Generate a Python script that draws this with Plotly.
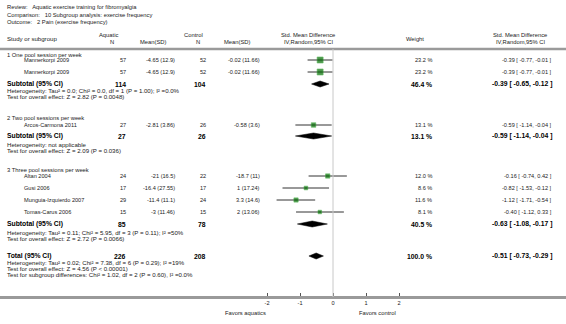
import plotly.graph_objects as go

# ---------------- data ----------------
title_lines = [
    "Review:   Aquatic exercise training for fibromyalgia",
    "Comparison:   10 Subgroup analysis: exercise frequency",
    "Outcome:   2 Pain (exercise frequency)",
]
group_titles = ["1 One pool session per week",
                "2 Two pool sessions per week",
                "3 Three pool sessions per week"]

study_names = ["Mannerkorpi 2009", "Mannerkorpi 2009", "Arcos-Carmona 2011",
               "Altan 2004", "Gusi 2006", "Munguia-Izquierdo 2007", "Tomas-Carus 2006"]
study_group = [0, 0, 1, 2, 2, 2, 2]
aq_n = [57, 57, 27, 24, 17, 29, 15]
aq_mean = [-4.65, -4.65, -2.81, -21, -16.4, -11.4, -3]
aq_sd = [12.9, 12.9, 3.86, 16.5, 27.55, 11.1, 11.46]
ct_n = [52, 52, 26, 22, 17, 24, 15]
ct_mean = [-0.02, -0.02, -0.58, -18.7, 1, 3.3, 2]
ct_sd = [11.66, 11.66, 3.6, 11, 17.24, 14.6, 13.06]
weights = [23.2, 23.2, 13.1, 12.0, 8.6, 11.6, 8.1]
smd = [-0.39, -0.39, -0.59, -0.16, -0.82, -1.12, -0.40]
smd_lo = [-0.77, -0.77, -1.14, -0.74, -1.53, -1.71, -1.12]
smd_hi = [-0.01, -0.01, -0.04, 0.42, -0.12, -0.54, 0.33]

sub_aq_n = [114, 27, 85]
sub_ct_n = [104, 26, 78]
sub_weight = [46.4, 13.1, 40.5]
sub_smd = [-0.39, -0.59, -0.63]
sub_lo = [-0.65, -1.14, -1.08]
sub_hi = [-0.12, -0.04, -0.17]
sub_het = ["Heterogeneity: Tau² = 0.0; Chi² = 0.0, df = 1 (P = 1.00); I² =0.0%",
           "Heterogeneity: not applicable",
           "Heterogeneity: Tau² = 0.11; Chi² = 5.95, df = 3 (P = 0.11); I² =50%"]
sub_test = ["Test for overall effect: Z = 2.82 (P = 0.0048)",
            "Test for overall effect: Z = 2.09 (P = 0.036)",
            "Test for overall effect: Z = 2.72 (P = 0.0066)"]

total_aq_n = 226
total_ct_n = 208
total_weight = 100.0
total_smd = -0.51
total_lo = -0.73
total_hi = -0.29
total_notes = ["Heterogeneity: Tau² = 0.02; Chi² = 7.38, df = 6 (P = 0.29); I² =19%",
               "Test for overall effect: Z = 4.56 (P < 0.00001)",
               "Test for subgroup differences: Chi² = 1.02, df = 2 (P = 0.60), I² =0.0%"]

tick_vals = [-2, -1, 0, 1, 2]
favours = ["Favors aquatics", "Favors control"]

# ---------------- layout (pixel positions) ----------------
W, H = 566, 324
FONT = "Liberation Sans"
title_y = [7, 14.5, 22]
head_y1, head_y2, head_mid = 35, 42, 38.5
head_line_y = 49
group_y = [55, 118, 170]
study_y = [60, 72, 125, 176, 188, 200, 212]
sub_y = [84, 136, 224]
sub_het_y = [90, 144, 232]
sub_test_y = [96, 150, 238]
total_y = 256
total_note_y = [262.5, 268.5, 274.5]
axis_y = 297
favours_y = 313
zero_px, unit_px = 333, 33
col = dict(left=6, study=23, aqn=127, aqm=176, ctn=207, ctm=261, wt=433, ci=553)

ROW, NOTE, HEAD, BS = 5.6, 6.1, 5.8, 6.8

fig = go.Figure()
annots = []


def txt(x, y, s, anchor="left", size=ROW, bold=False, color="#222"):
    annots.append(dict(x=x / W, y=y, xref="paper", yref="y", text=("<b>%s</b>" % s) if bold else s,
                       showarrow=False, xanchor=anchor, yanchor="middle", borderpad=0,
                       font=dict(family=FONT, size=size, color=color)))


def fmt(v):
    return "%g" % v


def ci(e, l, h):
    return "%.2f [ %.2f, %.2f ]" % (e, l, h)


for t, y in zip(title_lines, title_y):
    txt(col["left"], y, t, size=HEAD)

# headers
txt(col["left"], head_mid, "Study or subgroup", size=HEAD + 0.3)
txt(108, head_y1, "Aquatic", anchor="center", size=HEAD)
txt(112, head_y2, "N", anchor="center", size=HEAD)
txt(153, head_y2, "Mean(SD)", anchor="center", size=HEAD)
txt(193, head_y1, "Control", anchor="center", size=HEAD)
txt(198, head_y2, "N", anchor="center", size=HEAD)
txt(237, head_y2, "Mean(SD)", anchor="center", size=HEAD)
txt(308, head_y1, "Std. Mean Difference", anchor="center", size=HEAD)
txt(308, head_y2, "IV,Random,95% CI", anchor="center", size=HEAD)
txt(415, head_mid, "Weight", anchor="center", size=HEAD)
txt(520, head_y1, "Std. Mean Difference", anchor="center", size=HEAD)
txt(520, head_y2, "IV,Random,95% CI", anchor="center", size=HEAD)

for g, t in enumerate(group_titles):
    txt(col["left"], group_y[g], t, size=HEAD)

for i, name in enumerate(study_names):
    y = study_y[i]
    txt(col["study"], y, name)
    txt(col["aqn"], y, str(aq_n[i]), anchor="right")
    txt(col["aqm"], y, "%s (%s)" % (fmt(aq_mean[i]), fmt(aq_sd[i])), anchor="right")
    txt(col["ctn"], y, str(ct_n[i]), anchor="right")
    txt(col["ctm"], y, "%s (%s)" % (fmt(ct_mean[i]), fmt(ct_sd[i])), anchor="right")
    txt(col["wt"], y, "%.1f %%" % weights[i], anchor="right")
    txt(col["ci"], y, ci(smd[i], smd_lo[i], smd_hi[i]), anchor="right")

for g in range(3):
    y = sub_y[g]
    txt(col["left"], y, "Subtotal (95% CI)", size=BS, bold=True, color="#000")
    txt(col["aqn"], y, str(sub_aq_n[g]), anchor="right", size=BS, bold=True, color="#000")
    txt(col["ctn"], y, str(sub_ct_n[g]), anchor="right", size=BS, bold=True, color="#000")
    txt(col["wt"], y, "%.1f %%" % sub_weight[g], anchor="right", size=BS, bold=True, color="#000")
    txt(col["ci"], y, ci(sub_smd[g], sub_lo[g], sub_hi[g]), anchor="right", size=BS, bold=True, color="#000")
    txt(col["left"], sub_het_y[g], sub_het[g], size=NOTE)
    txt(col["left"], sub_test_y[g], sub_test[g], size=NOTE)

txt(col["left"], total_y, "Total (95% CI)", size=BS, bold=True, color="#000")
txt(col["aqn"], total_y, str(total_aq_n), anchor="right", size=BS, bold=True, color="#000")
txt(col["ctn"], total_y, str(total_ct_n), anchor="right", size=BS, bold=True, color="#000")
txt(col["wt"], total_y, "%.1f %%" % total_weight, anchor="right", size=BS, bold=True, color="#000")
txt(col["ci"], total_y, ci(total_smd, total_lo, total_hi), anchor="right", size=BS, bold=True, color="#000")
for s, y in zip(total_notes, total_note_y):
    txt(col["left"], y, s, size=NOTE)

txt(245, favours_y, favours[0], anchor="center", size=HEAD)
txt(377, favours_y, favours[1], anchor="center", size=HEAD)

# study squares with CI whiskers
fig.add_trace(go.Scatter(
    x=smd, y=study_y, mode="markers",
    marker=dict(symbol="square", size=[w ** 0.5 * 1.25 for w in weights], color="#006a00",
                line=dict(width=0.6, color="#23a023")),
    error_x=dict(type="data", symmetric=False,
                 array=[h - e for e, h in zip(smd, smd_hi)],
                 arrayminus=[e - l for e, l in zip(smd, smd_lo)],
                 width=0, thickness=1, color="#333"),
    hoverinfo="skip", showlegend=False))

# diamonds
half_h = 3
all_d = list(zip(sub_smd, sub_lo, sub_hi, sub_y)) + [(total_smd, total_lo, total_hi, total_y)]
for e, l, h, y in all_d:
    fig.add_trace(go.Scatter(
        x=[l, e, h, e, l], y=[y, y - half_h, y, y + half_h, y], mode="lines",
        fill="toself", fillcolor="#000", line=dict(color="#000", width=0.5),
        hoverinfo="skip", showlegend=False))

fig.update_layout(
    width=W, height=H, margin=dict(l=0, r=0, t=0, b=0),
    paper_bgcolor="white", plot_bgcolor="white",
    annotations=annots,
    xaxis=dict(range=[-zero_px / unit_px, (W - zero_px) / unit_px], anchor="free",
               position=1 - axis_y / H, showgrid=False, zeroline=False,
               showline=True, linecolor="#9a9a9a", linewidth=2.5,
               ticks="inside", ticklen=3, tickwidth=1, tickcolor="#555",
               tickvals=tick_vals, ticktext=[str(v) for v in tick_vals],
               tickfont=dict(family=FONT, size=5.6, color="#222")),
    yaxis=dict(range=[H, 0], visible=False, showgrid=False, zeroline=False),
    shapes=[
        dict(type="line", xref="paper", yref="y", x0=0, x1=1, y0=head_line_y, y1=head_line_y,
             line=dict(color="#9a9a9a", width=2.5)),
        dict(type="line", xref="x", yref="y", x0=0, x1=0, y0=head_line_y, y1=axis_y,
             line=dict(color="#c8c8c8", width=1)),
    ],
)

fig.write_html("out.html", config={"displayModeBar": False},
               post_script="document.body.style.margin='0px';document.body.style.padding='0px';"
                           "document.body.style.overflow='hidden';")
